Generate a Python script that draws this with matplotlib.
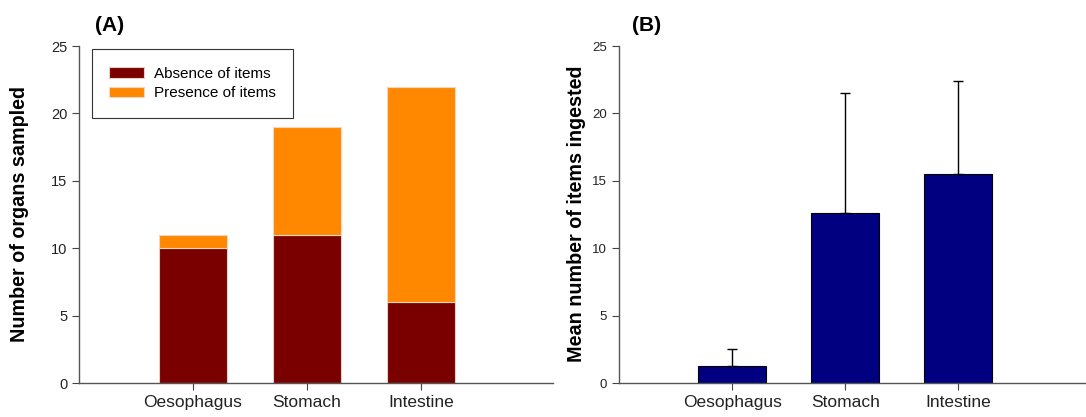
import numpy as np
import matplotlib.pyplot as plt

plt.rcParams['font.family'] = ['Liberation Sans', 'DejaVu Sans']

organs = ['Oesophagus', 'Stomach', 'Intestine']
absence = [10, 11, 6]
presence = [1, 8, 16]
mean_items = [1.25, 12.6, 15.5]
sd_items = [1.25, 8.9, 6.9]

dark_red = '#7a0000'
orange = '#ff8800'
navy = '#000080'

fig = plt.figure(figsize=(10.86, 4.17), dpi=100)
axA = fig.add_axes([0.0727, 0.0815, 0.4365, 0.808])
axB = fig.add_axes([0.570, 0.0815, 0.430, 0.808])

x = np.arange(1, len(organs) + 1)

# panel A: stacked counts
axA.bar(x, absence, width=0.6, color=dark_red, edgecolor='#e0d0c8', linewidth=0.8,
        label='Absence of items')
axA.bar(x, presence, width=0.6, bottom=absence, color=orange, edgecolor='#f0d8c0',
        linewidth=0.8, label='Presence of items')
axA.set_xlim(0, 4.16)
axA.set_ylim(0, 25)
axA.set_yticks(range(0, 26, 5))
axA.tick_params(axis='y', labelsize=10.5, length=5, color='#444444', labelcolor='#222222')
leg = axA.legend(loc='upper left', bbox_to_anchor=(0.027, 0.99), borderaxespad=0,
                 fancybox=False, edgecolor='black', fontsize=11, handlelength=2.3,
                 handleheight=0.7, borderpad=1.15, labelspacing=0.35, handletextpad=0.6)
leg.get_frame().set_linewidth(0.8)

# panel B: mean +- sd (upper only)
axB.bar(x, mean_items, width=0.6, color=navy, edgecolor='black', linewidth=0.8)
axB.errorbar(x, mean_items, yerr=[np.zeros(len(x)), sd_items], fmt='none',
             ecolor='black', elinewidth=1, capsize=3.5, capthick=1)
axB.set_xlim(0, 4.13)
axB.set_ylim(0, 25)
axB.set_yticks(range(0, 26, 5))
axB.tick_params(axis='y', labelsize=9.5, length=5, color='#444444', labelcolor='#222222')

for ax in (axA, axB):
    ax.set_xticks(x)
    ax.set_xticklabels(organs)
    ax.tick_params(axis='x', labelsize=12.5, length=5, color='#444444', labelcolor='#222222')
    for s in ('top', 'right'):
        ax.spines[s].set_visible(False)
    for s in ('left', 'bottom'):
        ax.spines[s].set_color('#555555')
        ax.spines[s].set_linewidth(1)

fig.text(0.018, 0.486, 'Number of organs sampled', rotation=90, ha='center', va='center',
         fontsize=14.2, fontweight='bold')
fig.text(0.531, 0.487, 'Mean number of items ingested', rotation=90, ha='center',
         va='center', fontsize=14.2, fontweight='bold')
fig.text(0.0875, 0.94, '(A)', fontsize=15, fontweight='bold', va='center')
fig.text(0.582, 0.94, '(B)', fontsize=15, fontweight='bold', va='center')

fig.savefig('out.png', dpi=100)
